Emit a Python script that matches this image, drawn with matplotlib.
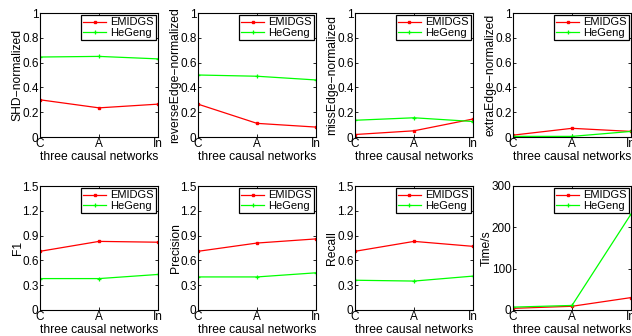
import numpy as np
import matplotlib.pyplot as plt

plt.rcParams['font.family'] = ['Liberation Sans', 'DejaVu Sans']

nets = ['C', 'A', 'In']
x = np.arange(1, 4)

shd_em = [0.30, 0.235, 0.265]
shd_hg = [0.645, 0.65, 0.63]
rev_em = [0.265, 0.11, 0.08]
rev_hg = [0.50, 0.49, 0.46]
miss_em = [0.02, 0.05, 0.145]
miss_hg = [0.135, 0.155, 0.125]
extra_em = [0.015, 0.07, 0.045]
extra_hg = [0.005, 0.005, 0.045]
f1_em = [0.71, 0.83, 0.82]
f1_hg = [0.38, 0.38, 0.43]
prec_em = [0.71, 0.81, 0.86]
prec_hg = [0.40, 0.40, 0.45]
rec_em = [0.71, 0.83, 0.77]
rec_hg = [0.36, 0.35, 0.41]
time_em = [4, 9, 30]
time_hg = [7, 11, 232]

panels = [
    ('SHD\u2212normalized', shd_em, shd_hg, np.arange(0, 1.01, 0.2)),
    ('reverseEdge\u2212normalized', rev_em, rev_hg, np.arange(0, 1.01, 0.2)),
    ('missEdge\u2212normalized', miss_em, miss_hg, np.arange(0, 1.01, 0.2)),
    ('extraEdge\u2212normalized', extra_em, extra_hg, np.arange(0, 1.01, 0.2)),
    ('F1', f1_em, f1_hg, np.arange(0, 1.51, 0.3)),
    ('Precision', prec_em, prec_hg, np.arange(0, 1.51, 0.3)),
    ('Recall', rec_em, rec_hg, np.arange(0, 1.51, 0.3)),
    ('Time/s', time_em, time_hg, np.arange(0, 301, 100)),
]

W, H = 632, 336
fig = plt.figure(figsize=(W / 100, H / 100), dpi=100)

lefts = [40, 198, 355, 513]
tops = [13, 186]
aw, ah = 118, 124

for i, (ylab, em, hg, yt) in enumerate(panels):
    r, c = divmod(i, 4)
    ax = fig.add_axes([lefts[c] / W, 1 - (tops[r] + ah) / H, aw / W, ah / H])
    ax.plot(x, em, '-', color='#ff0000', marker='s', ms=2, lw=0.9, label='EMIDGS')
    ax.plot(x, hg, '-', color='#00ff00', marker='+', ms=3.5, mew=0.9, lw=0.9,
            label='HeGeng')
    ax.set_xlim(1, 3)
    ax.set_ylim(yt[0], yt[-1])
    ax.set_xticks(x)
    ax.set_xticklabels(nets)
    ax.set_yticks(yt)
    ax.set_yticklabels(['%g' % round(v, 1) for v in yt])
    ax.tick_params(direction='in', length=2.5, width=0.6, labelsize=8.5, pad=1,
                   top=True, right=True)
    for s in ax.spines.values():
        s.set_linewidth(0.8)
    ax.set_xlabel('three causal networks', fontsize=8.7, labelpad=0.5)
    ax.set_ylabel(ylab, fontsize=8.7, labelpad=-1)
    leg = ax.legend(loc='upper right', fontsize=8, fancybox=False, framealpha=1,
                    edgecolor='black', borderpad=0.2, handlelength=2.0,
                    labelspacing=0.05, handletextpad=0.4, borderaxespad=0.2)
    leg.get_frame().set_linewidth(0.9)

fig.savefig('out.png', dpi=100)
